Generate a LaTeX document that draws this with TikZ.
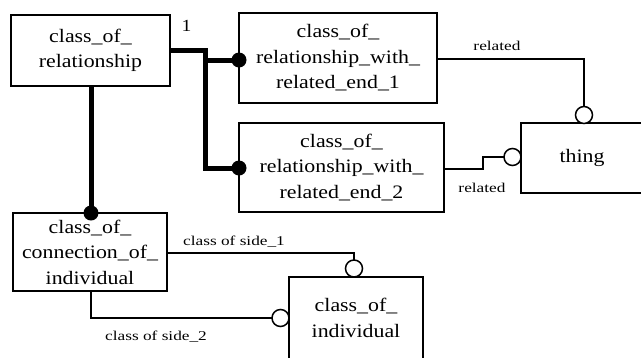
\documentclass[tikz,border=0pt]{standalone}
\usepackage{fontspec}
\setmainfont{Liberation Serif}[FakeStretch=1.15]
\newfontfamily\lblfont{Liberation Serif}[FakeStretch=1.28]
\begin{document}
\begin{tikzpicture}[x=1pt,y=-1pt,
  entity/.style={draw, line width=1.3pt, inner sep=0pt, align=center,
    font=\fontsize{19}{25.5}\selectfont},
  thick line/.style={line width=5pt},
  thin line/.style={line width=1.5pt},
  dot/.style={fill=black},
  opencirc/.style={draw, fill=white, line width=1.5pt},
  lbl/.style={font=\lblfont\fontsize{13.5}{15}\selectfont, inner sep=0pt}]
\useasboundingbox (0,0) rectangle (641,357);
% entities
\node[entity, minimum width=159pt, minimum height=71pt] (cor) at (90.5,50.5) {class\_of\_\\relationship};
\node[entity, minimum width=198pt, minimum height=90pt] (e1) at (338,58) {class\_of\_\\relationship\_with\_\\related\_end\_1};
\node[entity, minimum width=205pt, minimum height=89pt] (e2) at (341.5,167.5) {class\_of\_\\relationship\_with\_\\related\_end\_2};
\node[entity, minimum width=122pt, minimum height=70pt] (thing) at (582,158) {thing};
\node[entity, minimum width=154pt, minimum height=78pt] (conn) at (90,252) {class\_of\_\\connection\_of\_\\individual};
\node[entity, minimum width=134pt, minimum height=82pt] (ind) at (356,318) {class\_of\_\\individual};
% coordinates
\coordinate (j1) at (205,50);
\coordinate (j2) at (205,60);
\coordinate (j3) at (205,168);
\coordinate (a1) at (170,50);
\coordinate (b1) at (239,60);
\coordinate (c1) at (239,168);
\coordinate (a2) at (91,86);
\coordinate (d2) at (91,213);
% thick connectors
\draw[thick line] (a1) -- (j1) -- (j3) -- (c1);
\draw[thick line] (j2) -- (b1);
\draw[thick line] (a2) -- (d2);
\fill[dot] (b1) circle (7.5);
\fill[dot] (c1) circle (7.5);
\fill[dot] (d2) circle (7.5);
\node[font=\fontsize{17}{19}\selectfont, inner sep=0pt] (one) at (186.5,26) {1};
% thin connectors
\coordinate (r1s) at (437,59);
\coordinate (r1k) at (584,59);
\coordinate (r1c) at (584,115);
\draw[thin line] (r1s) -- (r1k) -- (r1c);
\draw[opencirc] (r1c) circle (8.5);
\node[lbl] (rel1) at (497,46) {related};
\coordinate (r2s) at (444,169);
\coordinate (r2k) at (483,169);
\coordinate (r2m) at (483,157);
\coordinate (r2c) at (512.5,157);
\draw[thin line] (r2s) -- (r2k) -- (r2m) -- (r2c);
\draw[opencirc] (r2c) circle (8.5);
\node[lbl] (rel2) at (482,188) {related};
\coordinate (s1s) at (167,253);
\coordinate (s1k) at (354,253);
\coordinate (s1c) at (354,268.5);
\draw[thin line] (s1s) -- (s1k) -- (s1c);
\draw[opencirc] (s1c) circle (8.5);
\node[lbl] (side1) at (234,242) {class of side\_1};
\coordinate (s2s) at (91,291);
\coordinate (s2k) at (91,318);
\coordinate (s2c) at (280.5,318);
\draw[thin line] (s2s) -- (s2k) -- (s2c);
\draw[opencirc] (s2c) circle (8.5);
\node[lbl] (side2) at (156,337) {class of side\_2};
\end{tikzpicture}
\end{document}
